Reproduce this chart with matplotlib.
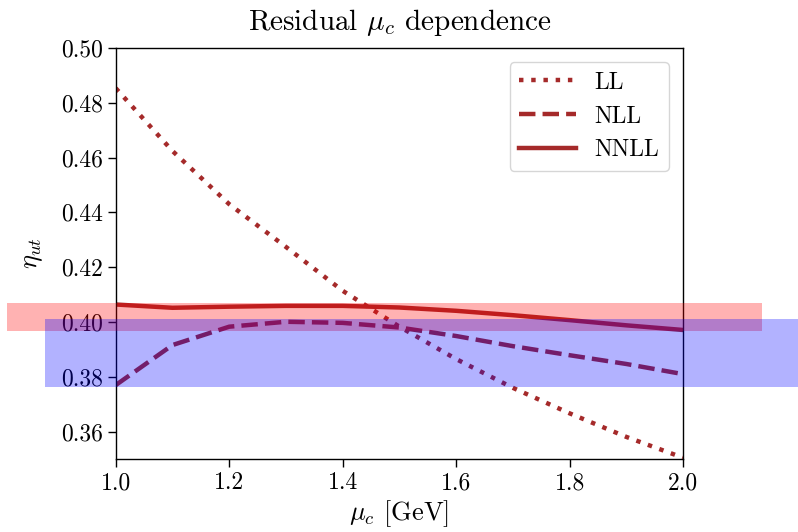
import matplotlib
matplotlib.use("Agg")
import matplotlib.pyplot as plt
from matplotlib.patches import Rectangle

plt.rcParams['font.family'] = 'serif'
plt.rcParams['font.serif'] = ['cmr10']
plt.rcParams['mathtext.fontset'] = 'cm'
plt.rcParams['axes.formatter.use_mathtext'] = True

mu_c = [1.0, 1.1, 1.2, 1.3, 1.4, 1.5, 1.6, 1.7, 1.8, 1.9, 2.0]
eta_LL = [0.4853, 0.4624, 0.4430, 0.4274, 0.4114, 0.3983, 0.3865, 0.3760, 0.3667, 0.3581, 0.3505]
eta_NLL = [0.3770, 0.3916, 0.3983, 0.4001, 0.3997, 0.3980, 0.3949, 0.3912, 0.3879, 0.3847, 0.3810]
eta_NNLL = [0.4064, 0.4052, 0.4056, 0.4059, 0.4059, 0.4053, 0.4041, 0.4025, 0.4007, 0.3988, 0.3971]

labels = ['LL', 'NLL', 'NNLL']

# bands (x range, y range)
red_band_x = [0.808, 2.139]
red_band_y = [0.3967, 0.4070]
blue_band_x = [0.875, 2.5]
blue_band_y = [0.3764, 0.4010]

color = '#a52a2a'

fig = plt.figure(figsize=(7.98, 5.32), dpi=100)
ax = fig.add_axes([0.145, 0.137, 0.711, 0.773])

ax.plot(mu_c, eta_LL, color=color, lw=3.2, dashes=(1.0, 1.75), label=labels[0])
ax.plot(mu_c, eta_NLL, color=color, lw=3.2, dashes=(3.7, 1.6), label=labels[1])
ax.plot(mu_c, eta_NNLL, color=color, lw=3.2, label=labels[2])

ax.add_patch(Rectangle((red_band_x[0], red_band_y[0]), red_band_x[1] - red_band_x[0],
                       red_band_y[1] - red_band_y[0], facecolor='red', alpha=0.3,
                       edgecolor='none', clip_on=False, zorder=3))
ax.add_patch(Rectangle((blue_band_x[0], blue_band_y[0]), blue_band_x[1] - blue_band_x[0],
                       blue_band_y[1] - blue_band_y[0], facecolor='blue', alpha=0.3,
                       edgecolor='none', clip_on=False, zorder=3))

ax.set_xlim(1.0, 2.0)
ax.set_ylim(0.35, 0.50)
ax.set_xticks([1.0, 1.2, 1.4, 1.6, 1.8, 2.0])
ax.set_yticks([0.36, 0.38, 0.40, 0.42, 0.44, 0.46, 0.48, 0.50])
ax.set_xticklabels(['1.0', '1.2', '1.4', '1.6', '1.8', '2.0'])
ax.set_yticklabels(['0.36', '0.38', '0.40', '0.42', '0.44', '0.46', '0.48', '0.50'])
ax.tick_params(labelsize=17, length=6, width=1.0)
for s in ax.spines.values():
    s.set_linewidth(1.0)

ax.set_title(r'Residual $\mu_c$ dependence', fontsize=21, pad=13)
ax.set_xlabel(r'$\mu_c$ [GeV]', fontsize=19, labelpad=3)
ax.set_ylabel(r'$\eta_{ut}$', fontsize=19, labelpad=11)

leg = ax.legend(loc='upper right', fontsize=17, handlelength=2.4, borderaxespad=0.6)
leg.set_zorder(5)

fig.savefig('out.png', dpi=100)
